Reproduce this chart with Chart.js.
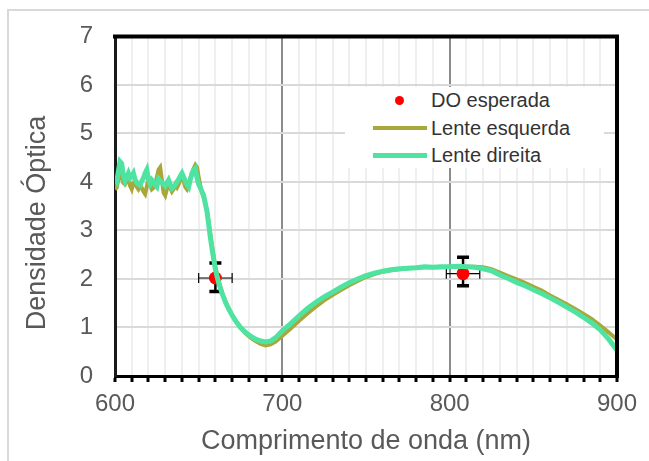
<!DOCTYPE html>
<html>
<head>
<meta charset="utf-8">
<script src="https://cdn.jsdelivr.net/npm/chart.js@4.4.0/dist/chart.umd.min.js"></script>
<style>
html,body{margin:0;padding:0;background:#fff;}
#wrap{position:relative;width:649px;height:461px;overflow:hidden;background:#fff;}
#frame{position:absolute;left:7px;top:9px;width:700px;height:520px;border:2px solid #d9d9d9;box-sizing:border-box;}
#c{position:absolute;left:0;top:0;}
#legend{position:absolute;left:345px;top:87px;width:259px;height:81px;background:#fff;font-family:'Liberation Sans',Arial,sans-serif;font-size:20px;color:#333;}
#legend .sym{position:absolute;}
#legend .txt{position:absolute;left:86px;height:24px;line-height:24px;white-space:nowrap;}
</style>
</head>
<body>
<div id="wrap">
  <div id="frame"></div>
  <canvas id="c" width="649" height="461"></canvas>
  <div id="legend"></div>
</div>
<script>
// ---------- DATA ----------
const seriesLabels = ['DO esperada', 'Lente esquerda', 'Lente direita'];

// Lente direita (wavelength nm, optical density)
const direitaX = [600,601,602,603,604,605,606,607,608,609,610,611,612,613,614,615,616,617,618,619,620,621,622,623,624,625,626,627,628,629,630,631,632,633,634,635,636,637,638,639,640,641,642,643,644,645,646,647,648,649,650,651,652,653,654,655,656,657,658,659,660,661,662,664,666,668,670,672,675,678,681,684,687,690,693,696,700,705,710,715,720,725,730,735,740,745,750,755,760,765,770,775,780,785,790,795,800,805,810,815,820,825,830,835,840,845,850,855,860,865,870,875,880,885,890,895,900];
const direitaY = [4.05,4.00,4.22,4.42,4.38,4.12,4.02,4.10,4.18,4.08,4.12,4.18,4.05,3.99,3.95,3.93,4.02,4.08,4.18,4.25,4.05,3.96,4.04,4.00,3.94,3.90,4.06,4.02,3.98,3.96,3.92,3.98,4.04,3.95,3.87,3.90,3.94,4.00,4.05,4.12,4.18,4.10,4.02,3.95,3.90,4.05,4.18,4.25,4.28,4.08,3.95,3.88,3.80,3.72,3.55,3.38,3.12,2.85,2.62,2.40,2.20,2.05,1.92,1.70,1.52,1.38,1.25,1.14,1.00,0.90,0.82,0.76,0.72,0.70,0.72,0.79,0.93,1.08,1.24,1.39,1.52,1.63,1.73,1.83,1.92,2.00,2.07,2.12,2.16,2.19,2.21,2.22,2.23,2.25,2.24,2.25,2.25,2.26,2.25,2.24,2.21,2.17,2.08,2.01,1.93,1.86,1.78,1.70,1.61,1.52,1.42,1.32,1.21,1.09,0.95,0.76,0.53];

// Lente esquerda
const esquerdaX = [600,601,602,603,604,605,606,607,608,609,610,611,612,613,614,615,616,617,618,619,620,621,622,623,624,625,626,627,628,629,630,631,632,633,634,635,636,637,638,639,640,641,642,643,644,645,646,647,648,649,650,651,652,653,654,655,656,657,658,659,660,661,662,664,666,668,670,672,675,678,681,684,687,690,693,696,700,705,710,715,720,725,730,735,740,745,750,755,760,765,770,775,780,785,790,795,800,805,810,815,820,825,830,835,840,845,850,855,860,865,870,875,880,885,890,895,900];
const esquerdaY = [3.85,3.88,4.05,4.15,4.10,3.98,3.95,4.02,4.08,3.92,3.85,3.98,4.02,3.90,3.85,3.92,3.88,3.80,3.75,3.90,4.08,3.95,3.85,3.88,3.95,4.10,4.25,4.30,4.05,3.78,3.72,3.85,3.95,3.88,3.80,3.85,3.92,3.88,3.95,4.05,4.10,4.02,3.90,3.85,3.92,4.08,4.15,4.28,4.35,4.30,4.10,3.92,3.78,3.68,3.55,3.40,3.18,2.92,2.68,2.45,2.25,2.08,1.95,1.72,1.54,1.39,1.26,1.14,1.00,0.88,0.79,0.72,0.66,0.63,0.65,0.71,0.83,0.98,1.14,1.29,1.43,1.56,1.67,1.77,1.87,1.96,2.04,2.10,2.15,2.18,2.20,2.22,2.23,2.24,2.24,2.24,2.25,2.25,2.25,2.25,2.24,2.20,2.13,2.06,1.99,1.92,1.84,1.76,1.66,1.57,1.48,1.38,1.28,1.17,1.04,0.90,0.75];

// DO esperada with error ranges
const expectedX = [660, 808];
const expectedY = [2.02, 2.11];
const expectedXLow = [650, 798];
const expectedXHigh = [670, 818];
const expectedYLow = [1.74, 1.86];
const expectedYHigh = [2.33, 2.45];

// Axis ticks
const xMin = 600, xMax = 900, xMinorStep = 10, xMajorStep = 100;
const yMin = 0, yMax = 7, yStep = 1;
const xTitle = 'Comprimento de onda (nm)';
const yTitle = 'Densidade Óptica';

// ---------- COLOURS / STYLES ----------
const cExpected = '#ff0000';
const cEsquerda = '#a9a63a';
const cDireita = '#4fe3a1';
const FONT = "'Liberation Sans', Arial, sans-serif";
const textGray = '#595959';

const toXY = (xs, ys) => xs.map((v, i) => ({x: v, y: ys[i]}));

const errorBars = {
  id: 'errorBars',
  beforeDatasetsDraw(chart) {
    const {ctx, scales: {x, y}} = chart;
    ctx.save();
    ctx.strokeStyle = '#000';
    for (let i = 0; i < expectedX.length; i++) {
      const px = x.getPixelForValue(expectedX[i]);
      const py = y.getPixelForValue(expectedY[i]);
      const xl = x.getPixelForValue(expectedXLow[i]);
      const xh = x.getPixelForValue(expectedXHigh[i]);
      const yl = y.getPixelForValue(expectedYLow[i]);
      const yh = y.getPixelForValue(expectedYHigh[i]);
      // horizontal (thin)
      ctx.lineWidth = 1.2;
      ctx.beginPath();
      ctx.moveTo(xl, py); ctx.lineTo(xh, py);
      ctx.moveTo(xl, py - 5); ctx.lineTo(xl, py + 5);
      ctx.moveTo(xh, py - 5); ctx.lineTo(xh, py + 5);
      ctx.stroke();
      // vertical (thick)
      ctx.lineWidth = 2.5;
      ctx.beginPath();
      ctx.moveTo(px, yl); ctx.lineTo(px, yh);
      ctx.stroke();
      ctx.lineWidth = 3.5;
      ctx.beginPath();
      ctx.moveTo(px - 6, yl); ctx.lineTo(px + 6, yl);
      ctx.moveTo(px - 6, yh); ctx.lineTo(px + 6, yh);
      ctx.stroke();
    }
    ctx.restore();
  }
};

const frameAndTitle = {
  id: 'frameAndTitle',
  afterDatasetsDraw(chart) {
    const {ctx, chartArea: a} = chart;
    ctx.save();
    ctx.strokeStyle = '#000';
    ctx.lineWidth = 4;
    ctx.beginPath();
    ctx.moveTo(a.left - 2, a.top);
    ctx.lineTo(a.right, a.top);
    ctx.lineTo(a.right, a.bottom + 2);
    ctx.stroke();
    ctx.restore();
  },
  afterDraw(chart) {
    const {ctx, chartArea: a} = chart;
    ctx.save();
    ctx.fillStyle = textGray;
    ctx.font = '27px ' + FONT;
    ctx.textAlign = 'center';
    ctx.textBaseline = 'middle';
    ctx.translate(38, 223);
    ctx.rotate(-Math.PI / 2);
    ctx.fillText(yTitle, 0, 0);
    ctx.restore();
  }
};

const chart = new Chart(document.getElementById('c'), {
  type: 'scatter',
  data: {
    datasets: [
      {
        label: seriesLabels[0],
        data: toXY(expectedX, expectedY),
        backgroundColor: cExpected,
        borderColor: cExpected,
        pointRadius: 6.5,
        pointBorderWidth: 0,
        showLine: false,
        order: 3
      },
      {
        label: seriesLabels[1],
        data: toXY(esquerdaX, esquerdaY),
        borderColor: cEsquerda,
        backgroundColor: cEsquerda,
        borderWidth: 4,
        pointRadius: 0,
        showLine: true,
        tension: 0,
        order: 2
      },
      {
        label: seriesLabels[2],
        data: toXY(direitaX, direitaY),
        borderColor: cDireita,
        backgroundColor: cDireita,
        borderWidth: 5,
        pointRadius: 0,
        showLine: true,
        tension: 0,
        order: 1
      }
    ]
  },
  options: {
    responsive: false,
    animation: false,
    devicePixelRatio: 1,
    layout: {padding: {left: 0, top: 33, right: 32, bottom: 0}},
    plugins: {
      legend: {display: false},
      tooltip: {enabled: false}
    },
    scales: {
      x: {
        type: 'linear',
        min: xMin, max: xMax,
        afterFit: s => { s.height = 85; },
        ticks: {
          stepSize: xMinorStep,
          autoSkip: false,
          maxRotation: 0,
          padding: 8,
          color: textGray,
          font: {family: FONT, size: 24},
          callback: v => (v % xMajorStep === 0 ? String(v) : '')
        },
        grid: {
          color: c => (c.tick && c.tick.value % xMajorStep === 0 ? '#8c8c8c' : '#efefef'),
          lineWidth: 2,
          tickColor: '#000',
          tickLength: 6,
          tickWidth: 3
        },
        border: {color: '#000', width: 3},
        title: {
          display: true,
          text: xTitle,
          color: textGray,
          font: {family: FONT, size: 27},
          padding: {top: 0, bottom: 3}
        }
      },
      y: {
        min: yMin, max: yMax,
        afterFit: s => { s.width = 115; },
        ticks: {
          stepSize: yStep,
          padding: 22,
          color: textGray,
          font: {family: FONT, size: 24}
        },
        grid: {
          color: '#d9d9d9',
          lineWidth: 2,
          drawTicks: false
        },
        border: {color: '#1a1a1a', width: 3}
      }
    }
  },
  plugins: [errorBars, frameAndTitle]
});

// ---------- LEGEND (built from chart datasets) ----------
const legend = document.getElementById('legend');
const rowCenters = [13, 41, 68];
chart.data.datasets.forEach((ds, i) => {
  const cy = rowCenters[i];
  const sym = document.createElement('div');
  sym.className = 'sym';
  if (!ds.showLine) {
    sym.style.left = (54 - 4.5) + 'px';
    sym.style.top = (cy - 4.5) + 'px';
    sym.style.width = '9px';
    sym.style.height = '9px';
    sym.style.borderRadius = '50%';
    sym.style.background = ds.backgroundColor;
  } else {
    const w = ds.borderWidth;
    sym.style.left = '28px';
    sym.style.width = '54px';
    sym.style.top = (cy - w / 2) + 'px';
    sym.style.height = w + 'px';
    sym.style.background = ds.borderColor;
  }
  legend.appendChild(sym);
  const t = document.createElement('div');
  t.className = 'txt';
  t.style.top = (cy - 12) + 'px';
  t.textContent = ds.label;
  legend.appendChild(t);
});
</script>
</body>
</html>
